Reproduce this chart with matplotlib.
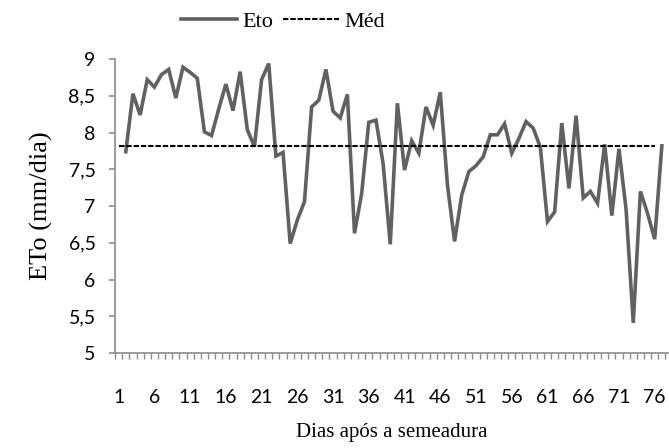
import numpy as np
import matplotlib

matplotlib.use("Agg")
import matplotlib.pyplot as plt
from matplotlib.ticker import FixedLocator, MultipleLocator, FuncFormatter

# ETo diaria (mm/dia); a serie Eto aparece deslocada um dia
# em relacao a linha da media no original
eto = [7.74, 8.53, 8.24, 8.72, 8.62, 8.79, 8.86, 8.47, 8.89, 8.82,
       8.74, 8.01, 7.96, 8.32, 8.66, 8.30, 8.83, 8.04, 7.81, 8.72,
       8.94, 7.68, 7.73, 6.49, 6.81, 7.06, 8.35, 8.44, 8.86, 8.29,
       8.20, 8.52, 6.63, 7.17, 8.14, 8.17, 7.58, 6.48, 8.40, 7.49,
       7.89, 7.72, 8.35, 8.10, 8.55, 7.29, 6.52, 7.15, 7.47, 7.55,
       7.67, 7.97, 7.97, 8.12, 7.72, 7.92, 8.15, 8.06, 7.80, 6.79,
       6.92, 8.13, 7.24, 8.23, 7.11, 7.20, 7.04, 7.84, 6.87, 7.78,
       6.95, 5.41, 7.20, 6.90, 6.55, 7.82]
eto_dias = np.arange(2, 2 + len(eto))
med_dias = np.arange(1, 1 + len(eto))
MED = 7.82
med = np.full(len(med_dias), MED)
xticks = np.arange(1, 77, 5)
yticks = np.arange(5, 9.01, 0.5)

GRAY = "#8c8c8c"
SERIF = "Liberation Serif"
TICKF = "Lato"

fig = plt.figure(figsize=(6.69, 4.48), dpi=100)
ax = fig.add_axes([0.172, 0.212, 0.828, 0.656])

ax.plot(eto_dias, eto, color="#616161", lw=2.6, label="Eto",
        solid_joinstyle="miter")
ax.plot(med_dias, med, color="black", lw=1.5, dashes=(2.6, 0.9), label="Méd")

ax.set_xlim(0.5, 78.0)
ax.set_ylim(5, 9)
for s in ("top", "right"):
    ax.spines[s].set_visible(False)
for s in ("left", "bottom"):
    ax.spines[s].set_color(GRAY)
    ax.spines[s].set_linewidth(1.2)

ax.xaxis.set_major_locator(FixedLocator(xticks))
ax.xaxis.set_minor_locator(MultipleLocator(1, offset=0.5))
ax.tick_params(axis="x", which="major", length=0, pad=26, labelsize=14)
ax.tick_params(axis="x", which="minor", length=4, width=1.0, color=GRAY,
               direction="out")
ax.set_yticks(yticks)
ax.yaxis.set_major_formatter(
    FuncFormatter(lambda v, p: f"{v:g}".replace(".", ",")))
ax.tick_params(axis="y", length=4, width=1.2, color=GRAY, pad=10, labelsize=14)
for lab in ax.get_xticklabels() + ax.get_yticklabels():
    lab.set_fontfamily(TICKF)

ax.set_ylabel("ETo (mm/dia)", fontsize=19, family=SERIF, labelpad=11)
ax.set_xlabel("Dias após a semeadura", fontsize=15, family=SERIF, labelpad=12)

leg = fig.legend(loc="center", bbox_to_anchor=(283 / 669, 1 - 22 / 448),
                 ncol=2, frameon=False, fontsize=16,
                 handlelength=2.5, handletextpad=0.25, columnspacing=0.45)
for t in leg.get_texts():
    t.set_fontfamily(SERIF)

fig.savefig("out.png", dpi=100)
